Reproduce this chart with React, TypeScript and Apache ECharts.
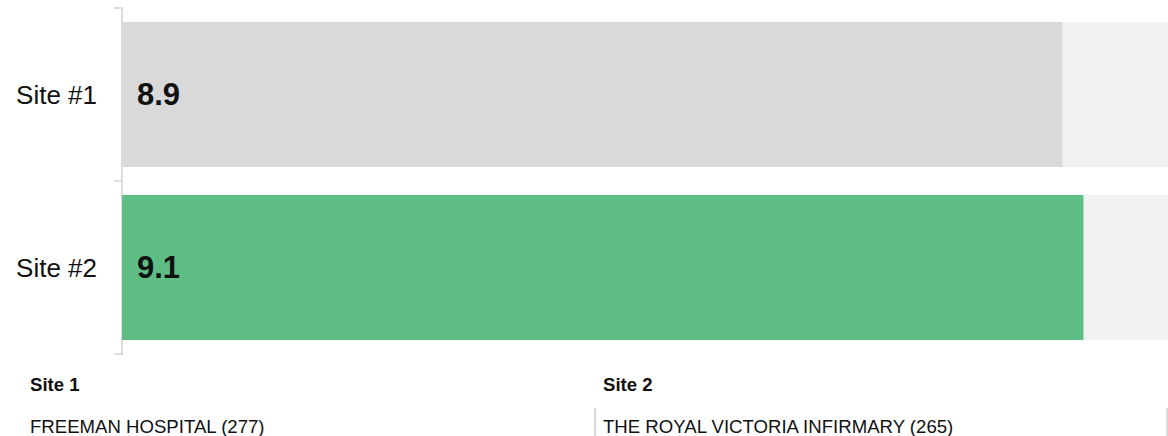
import React, { useEffect, useRef } from "react";
import * as echarts from "echarts";

const categories = ["Site #1", "Site #2"];
const values = [8.9, 9.1];
const barColors = ["#d9d9d9", "#5fbe85"];
const scaleMax = 9.9;
const siteHeaders = ["Site 1", "Site 2"];
const siteNames = ["FREEMAN HOSPITAL (277)", "THE ROYAL VICTORIA INFIRMARY (265)"];

const FONT = "Arial, 'Liberation Sans', Helvetica, sans-serif";

export default function App() {
  const ref = useRef<HTMLDivElement>(null);
  useEffect(() => {
    if (!ref.current) return;
    const chart = echarts.init(ref.current, undefined, { renderer: "svg" });
    const blockX = [30, 603];
    const dividerX = [595, 1167];
    const graphics: any[] = [];
    siteHeaders.forEach((h, i) => {
      graphics.push({
        type: "text",
        left: blockX[i],
        top: 374.5,
        style: { text: h, font: `bold 18.6px ${FONT}`, fill: "#111" },
      });
      graphics.push({
        type: "text",
        left: blockX[i],
        top: 416.5,
        style: { text: siteNames[i], font: `18.6px ${FONT}`, fill: "#111" },
      });
      graphics.push({
        type: "line",
        shape: { x1: dividerX[i], y1: 408, x2: dividerX[i], y2: 436 },
        style: { stroke: "#cccccc", lineWidth: 1.5 },
      });
    });
    chart.setOption({
      animation: false,
      textStyle: { fontFamily: FONT },
      grid: { left: 122, top: 8, right: 0, height: 346, containLabel: false },
      xAxis: {
        type: "value",
        min: 0,
        max: scaleMax,
        show: false,
      },
      yAxis: {
        type: "category",
        data: categories,
        inverse: true,
        axisLine: { show: true, lineStyle: { color: "#dddddd", width: 2 } },
        axisTick: { show: true, length: 8, lineStyle: { color: "#dddddd", width: 2 } },
        axisLabel: { fontSize: 26, color: "#111", margin: 25, fontFamily: FONT },
        splitLine: { show: false },
      },
      series: [
        {
          type: "bar",
          barWidth: 145,
          showBackground: true,
          backgroundStyle: { color: "#f1f1f1" },
          data: values.map((v, i) => ({ value: v, itemStyle: { color: barColors[i] } })),
          label: {
            show: true,
            position: "insideLeft",
            distance: 15,
            fontSize: 31,
            fontWeight: "bold",
            color: "#111",
            fontFamily: FONT,
            formatter: (p: any) => p.value.toFixed(1),
          },
        },
      ],
      graphic: graphics,
    });
    return () => chart.dispose();
  }, []);
  return (
    <div
      ref={ref}
      style={{ position: "absolute", left: 0, top: 0, width: 1168, height: 436, background: "#fff" }}
    />
  );
}
